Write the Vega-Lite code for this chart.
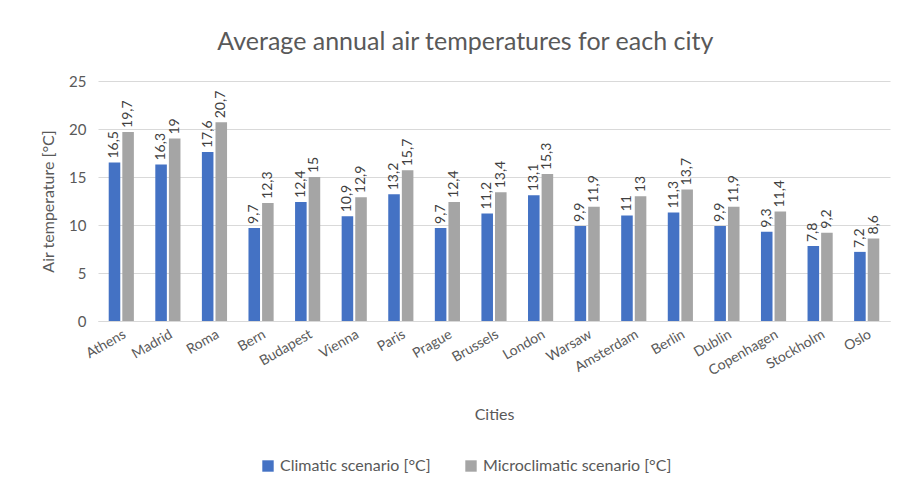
{
  "$schema": "https://vega.github.io/schema/vega-lite/v6.json",
  "width": 792,
  "height": 240,
  "padding": {"left": 40, "top": 30, "right": 8, "bottom": 10},
  "background": "white",
  "title": {"text": "Average annual air temperatures for each city", "fontSize": 25, "fontWeight": "normal", "color": "#595959", "font": "Lato", "offset": 19, "frame": "bounds"},
  "config": {
    "locale": {"number": {"decimal": ",", "thousands": ".", "grouping": [3], "currency": ["", " €"]}},
    "font": "Lato",
    "view": {"stroke": null}
  },
  "data": {"values": [
    {"city": "Athens", "scenario": "Climatic scenario [°C]", "t": 16.5},
    {"city": "Athens", "scenario": "Microclimatic scenario [°C]", "t": 19.7},
    {"city": "Madrid", "scenario": "Climatic scenario [°C]", "t": 16.3},
    {"city": "Madrid", "scenario": "Microclimatic scenario [°C]", "t": 19},
    {"city": "Roma", "scenario": "Climatic scenario [°C]", "t": 17.6},
    {"city": "Roma", "scenario": "Microclimatic scenario [°C]", "t": 20.7},
    {"city": "Bern", "scenario": "Climatic scenario [°C]", "t": 9.7},
    {"city": "Bern", "scenario": "Microclimatic scenario [°C]", "t": 12.3},
    {"city": "Budapest", "scenario": "Climatic scenario [°C]", "t": 12.4},
    {"city": "Budapest", "scenario": "Microclimatic scenario [°C]", "t": 15},
    {"city": "Vienna", "scenario": "Climatic scenario [°C]", "t": 10.9},
    {"city": "Vienna", "scenario": "Microclimatic scenario [°C]", "t": 12.9},
    {"city": "Paris", "scenario": "Climatic scenario [°C]", "t": 13.2},
    {"city": "Paris", "scenario": "Microclimatic scenario [°C]", "t": 15.7},
    {"city": "Prague", "scenario": "Climatic scenario [°C]", "t": 9.7},
    {"city": "Prague", "scenario": "Microclimatic scenario [°C]", "t": 12.4},
    {"city": "Brussels", "scenario": "Climatic scenario [°C]", "t": 11.2},
    {"city": "Brussels", "scenario": "Microclimatic scenario [°C]", "t": 13.4},
    {"city": "London", "scenario": "Climatic scenario [°C]", "t": 13.1},
    {"city": "London", "scenario": "Microclimatic scenario [°C]", "t": 15.3},
    {"city": "Warsaw", "scenario": "Climatic scenario [°C]", "t": 9.9},
    {"city": "Warsaw", "scenario": "Microclimatic scenario [°C]", "t": 11.9},
    {"city": "Amsterdam", "scenario": "Climatic scenario [°C]", "t": 11},
    {"city": "Amsterdam", "scenario": "Microclimatic scenario [°C]", "t": 13},
    {"city": "Berlin", "scenario": "Climatic scenario [°C]", "t": 11.3},
    {"city": "Berlin", "scenario": "Microclimatic scenario [°C]", "t": 13.7},
    {"city": "Dublin", "scenario": "Climatic scenario [°C]", "t": 9.9},
    {"city": "Dublin", "scenario": "Microclimatic scenario [°C]", "t": 11.9},
    {"city": "Copenhagen", "scenario": "Climatic scenario [°C]", "t": 9.3},
    {"city": "Copenhagen", "scenario": "Microclimatic scenario [°C]", "t": 11.4},
    {"city": "Stockholm", "scenario": "Climatic scenario [°C]", "t": 7.8},
    {"city": "Stockholm", "scenario": "Microclimatic scenario [°C]", "t": 9.2},
    {"city": "Oslo", "scenario": "Climatic scenario [°C]", "t": 7.2},
    {"city": "Oslo", "scenario": "Microclimatic scenario [°C]", "t": 8.6}
  ]},
  "encoding": {
    "x": {"field": "city", "type": "nominal", "sort": null,
      "scale": {"paddingInner": 0.46, "paddingOuter": 0.23},
      "axis": {"title": "Cities", "labelAngle": -30, "labelAlign": "right", "labelBaseline": "top", "labelPadding": 6,
        "labelFontSize": 14, "labelColor": "#595959", "titleFontSize": 16, "titleFontWeight": "normal", "titleColor": "#595959", "titlePadding": 29,
        "ticks": false, "domainColor": "#d9d9d9", "domainWidth": 1}},
    "xOffset": {"field": "scenario", "type": "nominal", "scale": {"paddingInner": 0.15}},
    "y": {"field": "t", "type": "quantitative",
      "scale": {"domain": [0, 25]},
      "axis": {"title": "Air temperature [°C]", "values": [0, 5, 10, 15, 20, 25], "format": "d", "labelFontSize": 15, "labelColor": "#595959", "labelPadding": 12,
        "titleFontSize": 16, "titleFontWeight": "normal", "titleColor": "#595959", "titlePadding": 12,
        "ticks": false, "domain": false, "gridColor": "#d9d9d9", "gridWidth": 1}}
  },
  "layer": [
    {"mark": {"type": "bar"},
      "encoding": {
        "color": {"field": "scenario", "type": "nominal",
          "scale": {"range": ["#4472C4", "#A5A5A5"]},
          "legend": {"title": null, "orient": "none", "legendX": 162, "legendY": 377, "direction": "horizontal", "symbolType": "square", "symbolSize": 130, "symbolStrokeWidth": 0, "labelFontSize": 16, "labelColor": "#595959", "labelLimit": 400, "columnPadding": 32}}
      }},
    {"mark": {"type": "text", "angle": -90, "align": "left", "baseline": "middle", "dx": 4, "fontSize": 14, "color": "#404040"},
      "encoding": {"text": {"field": "t", "type": "quantitative", "format": "~g"}}}
  ]
}
